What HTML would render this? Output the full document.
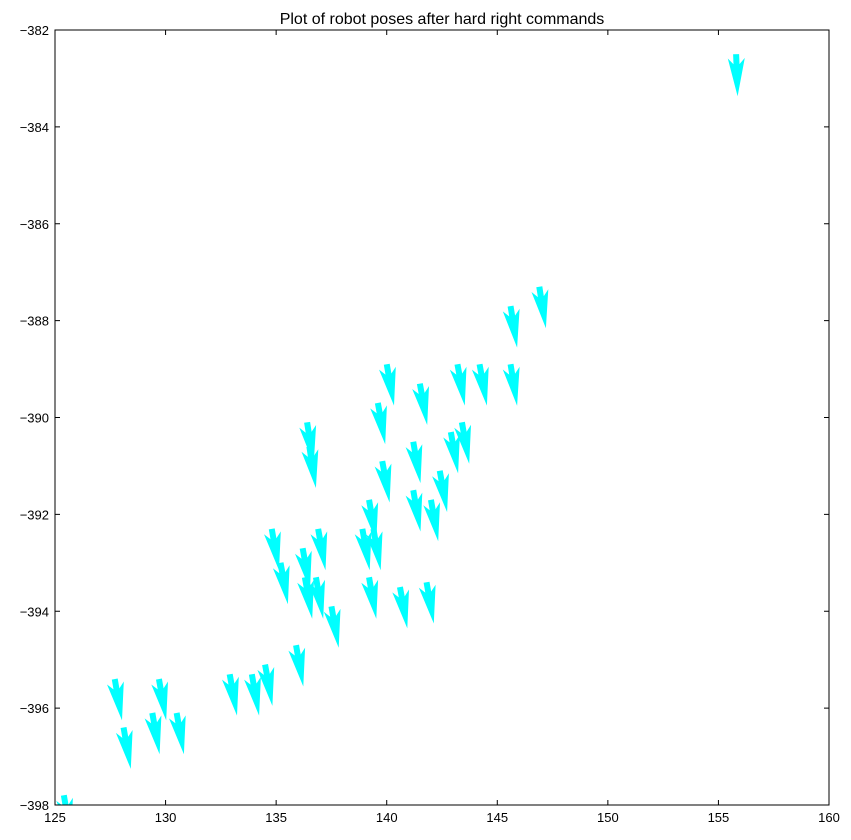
<!DOCTYPE html>
<html><head><meta charset="utf-8"><style>
html,body{margin:0;padding:0;background:#fff;}
svg text{font-family:"Liberation Sans",sans-serif;}
</style></head><body>
<svg id="chart" width="851" height="835" xmlns="http://www.w3.org/2000/svg">
<defs><clipPath id="clip"><rect x="55" y="30" width="774" height="775"/></clipPath></defs>
<rect x="0" y="0" width="851" height="835" fill="#fff"/>
<text x="442" y="24" font-size="16" text-anchor="middle">Plot of robot poses after hard right commands</text>
<g id="arrows" clip-path="url(#clip)"></g>
<rect x="55" y="30" width="774" height="775" fill="none" stroke="#000" stroke-width="1"/>
<g id="axes"></g>
</svg>
<script>
const poseX = [155.8,146.9,145.6,140.0,143.2,144.2,145.6,141.5,139.6,136.4,143.4,142.9,136.5,141.2,139.8,142.4,139.2,141.2,142.0,134.8,136.9,138.9,139.4,136.2,135.2,136.8,136.3,139.2,141.8,140.6,137.5,135.9,134.5,132.9,133.9,127.7,129.7,129.4,130.5,128.1,125.4];
const poseY = [-382.5,-387.3,-387.7,-388.9,-388.9,-388.9,-388.9,-389.3,-389.7,-390.1,-390.1,-390.3,-390.6,-390.5,-390.9,-391.1,-391.7,-391.5,-391.7,-392.3,-392.3,-392.3,-392.3,-392.7,-393.0,-393.3,-393.3,-393.3,-393.4,-393.5,-393.9,-394.7,-395.1,-395.3,-395.3,-395.4,-395.4,-396.1,-396.1,-396.4,-397.8];
const poseHeading = [-88,-81,-81,-80,-80,-80,-81,-80,-80,-81,-80,-80,-81,-80,-80,-80,-80,-80,-80,-80,-80,-80,-80,-80,-80,-80,-80,-80,-80,-80,-80,-80,-80,-80,-80,-80,-80,-80,-80,-80,-80];
const xTicks = [125,130,135,140,145,150,155,160];
const yTicks = [-382,-384,-386,-388,-390,-392,-394,-396,-398];

const X0=55,X1=829,Y0=30,Y1=805;
const xs = v => X0 + (v-125)/(160-125)*(X1-X0);
const ys = v => Y0 + (-382-v)/16*(Y1-Y0);
const NS="http://www.w3.org/2000/svg";
const ag=document.getElementById('arrows');
// arrow polygon in local coords, pointing along +x (length 42)
const shape=[[0,-3],[10,-3],[4,-8.5],[42,0],[4,8.5],[10,3],[0,3]];
for(let i=0;i<poseX.length;i++){
  const a=-poseHeading[i]*Math.PI/180;
  const c=Math.cos(a), s=Math.sin(a);
  const tx=xs(poseX[i]), ty=ys(poseY[i]);
  const pts=shape.map(([u,v])=>[(tx+u*c-v*s).toFixed(1),(ty+u*s+v*c).toFixed(1)].join(',')).join(' ');
  const p=document.createElementNS(NS,'polygon');
  p.setAttribute('points',pts);
  p.setAttribute('fill','#00ffff');
  
  
  ag.appendChild(p);
}
const ax=document.getElementById('axes');
function line(x1,y1,x2,y2){const l=document.createElementNS(NS,'line');l.setAttribute('x1',x1);l.setAttribute('y1',y1);l.setAttribute('x2',x2);l.setAttribute('y2',y2);l.setAttribute('stroke','#000');l.setAttribute('stroke-width','1');


ax.appendChild(l);}
function text(x,y,t,anchor){const e=document.createElementNS(NS,'text');e.setAttribute('x',x);e.setAttribute('y',y);e.setAttribute('font-size','13');e.setAttribute('text-anchor',anchor);e.textContent=t;


ax.appendChild(e);}
xTicks.forEach(v=>{const x=xs(v);line(x,Y1,x,Y1-5);line(x,Y0,x,Y0+5);text(x,Y1+17,String(v),'middle');});
yTicks.forEach(v=>{const y=ys(v);line(X0,y,X0+5,y);line(X1,y,X1-5,y);text(X0-6,y+5,'\u2212'+Math.abs(v),'end');});
</script>
</body></html>
